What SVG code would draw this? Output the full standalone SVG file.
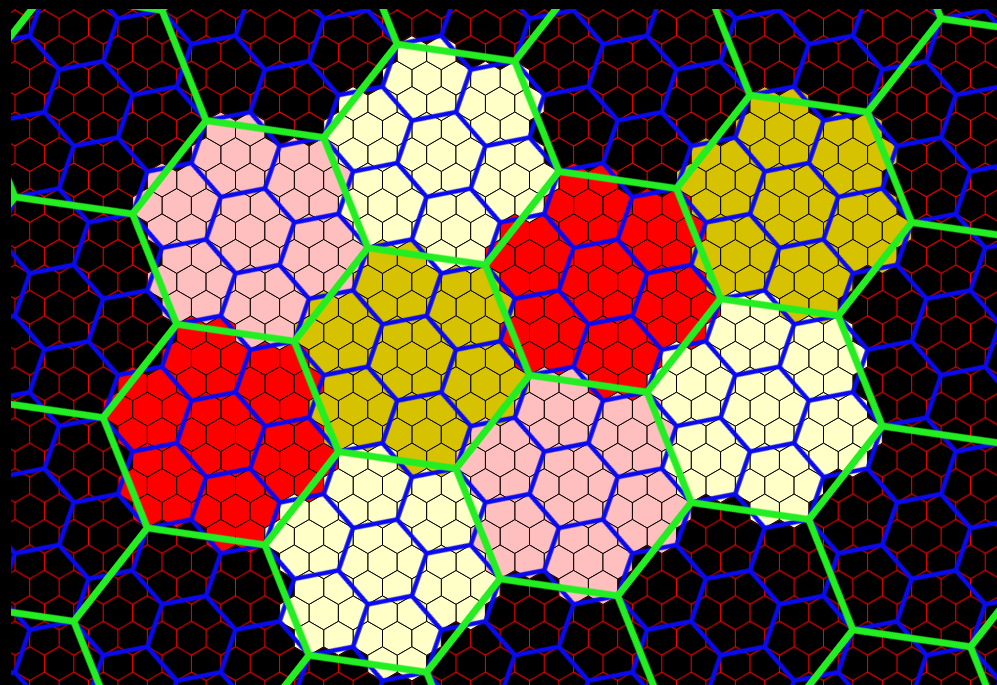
<svg xmlns="http://www.w3.org/2000/svg" width="997" height="685" viewBox="0 0 997 685">
<style>
.cell use{stroke:#000;stroke-width:1}
.red{fill:#ff0000}
.olive{fill:#d6c200}
.pink{fill:#ffbfbf}
.cream{fill:#ffffc8}
.gridline{fill:none;stroke-linejoin:round}
</style>
<defs>
<pattern id="ps" patternUnits="userSpaceOnUse" width="29.4" height="50.922" patternTransform="translate(213.45,434.6)">
<path class="gridline" stroke="#ff0000" stroke-width="1" d="M7.35,-16.974l14.7,8.487v16.974l-14.7,8.487l-14.7,-8.487v-16.974z M36.75,-16.974l14.7,8.487v16.974l-14.7,8.487l-14.7,-8.487v-16.974z M-7.35,8.487l14.7,8.487v16.974l-14.7,8.487l-14.7,-8.487v-16.974z M22.05,8.487l14.7,8.487v16.974l-14.7,8.487l-14.7,-8.487v-16.974z M7.35,33.948l14.7,8.487v16.974l-14.7,8.487l-14.7,-8.487v-16.974z M36.75,33.948l14.7,8.487v16.974l-14.7,8.487l-14.7,-8.487v-16.974z"/>
</pattern>
<pattern id="pm" patternUnits="userSpaceOnUse" width="77.785" height="134.727" patternTransform="translate(220.8,434.6) rotate(19.1066) translate(-19.446,0)">
<path class="gridline" stroke="#0a0af0" stroke-width="4.5" d="M19.446,-44.909l38.893,22.455v44.909l-38.893,22.455l-38.893,-22.455v-44.909z M97.231,-44.909l38.893,22.455v44.909l-38.893,22.455l-38.893,-22.455v-44.909z M-19.446,22.455l38.893,22.455v44.909l-38.893,22.455l-38.893,-22.455v-44.909z M58.339,22.455l38.893,22.455v44.909l-38.893,22.455l-38.893,-22.455v-44.909z M19.446,89.818l38.893,22.455v44.909l-38.893,22.455l-38.893,-22.455v-44.909z M97.231,89.818l38.893,22.455v44.909l-38.893,22.455l-38.893,-22.455v-44.909z"/>
</pattern>
<pattern id="pl" patternUnits="userSpaceOnUse" width="205.8" height="356.457" patternTransform="translate(220.8,434.6) rotate(38.2132) translate(-51.45,0)">
<path class="gridline" stroke="#22ee22" stroke-width="7" d="M51.45,-118.819l102.9,59.41v118.819l-102.9,59.41l-102.9,-59.41v-118.819z M257.25,-118.819l102.9,59.41v118.819l-102.9,59.41l-102.9,-59.41v-118.819z M-51.45,59.41l102.9,59.41v118.819l-102.9,59.41l-102.9,-59.41v-118.819z M154.35,59.41l102.9,59.41v118.819l-102.9,59.41l-102.9,-59.41v-118.819z M51.45,237.638l102.9,59.41v118.819l-102.9,59.41l-102.9,-59.41v-118.819z M257.25,237.638l102.9,59.41v118.819l-102.9,59.41l-102.9,-59.41v-118.819z"/>
</pattern>
<path id="h" d="M0,-16.974l14.7,8.487v16.974l-14.7,8.487l-14.7,-8.487v-16.974z"/>
<g id="f">
<use href="#h"/><use href="#h" x="29.4"/><use href="#h" x="-29.4"/>
<use href="#h" x="14.7" y="25.461"/><use href="#h" x="-14.7" y="25.461"/>
<use href="#h" x="14.7" y="-25.461"/><use href="#h" x="-14.7" y="-25.461"/>
</g>
<g id="L">
<use href="#f"/><use href="#f" x="73.5" y="25.461"/><use href="#f" x="-73.5" y="-25.461"/>
<use href="#f" x="14.7" y="76.383"/><use href="#f" x="-14.7" y="-76.383"/>
<use href="#f" x="-58.8" y="50.922"/><use href="#f" x="58.8" y="-50.922"/>
</g>
</defs>
<rect x="0" y="0" width="997" height="685" fill="#000"/>
<rect id="small-grid" x="11" y="9" width="986" height="676" fill="url(#ps)"/>
<g id="cells">
<g id="cell-red-1" class="cell red"><use href="#L" x="220.8" y="434.6"/></g>
<g id="cell-olive-1" class="cell olive"><use href="#L" x="411.9" y="358.24"/></g>
<g id="cell-red-2" class="cell red"><use href="#L" x="603.0" y="281.88"/></g>
<g id="cell-olive-2" class="cell olive"><use href="#L" x="794.1" y="205.52"/></g>
<g id="cell-pink-1" class="cell pink"><use href="#L" x="250.2" y="230.9"/></g>
<g id="cell-cream-1" class="cell cream"><use href="#L" x="441.3" y="154.54"/></g>
<g id="cell-cream-2" class="cell cream"><use href="#L" x="382.5" y="561.94"/></g>
<g id="cell-pink-2" class="cell pink"><use href="#L" x="573.6" y="485.58"/></g>
<g id="cell-cream-3" class="cell cream"><use href="#L" x="764.7" y="409.22"/></g>
</g>
<g id="connectors">
<rect id="medium-grid" x="11" y="9" width="986" height="676" fill="url(#pm)"/>
<rect id="large-grid" x="11" y="9" width="986" height="676" fill="url(#pl)"/>
</g>
</svg>
